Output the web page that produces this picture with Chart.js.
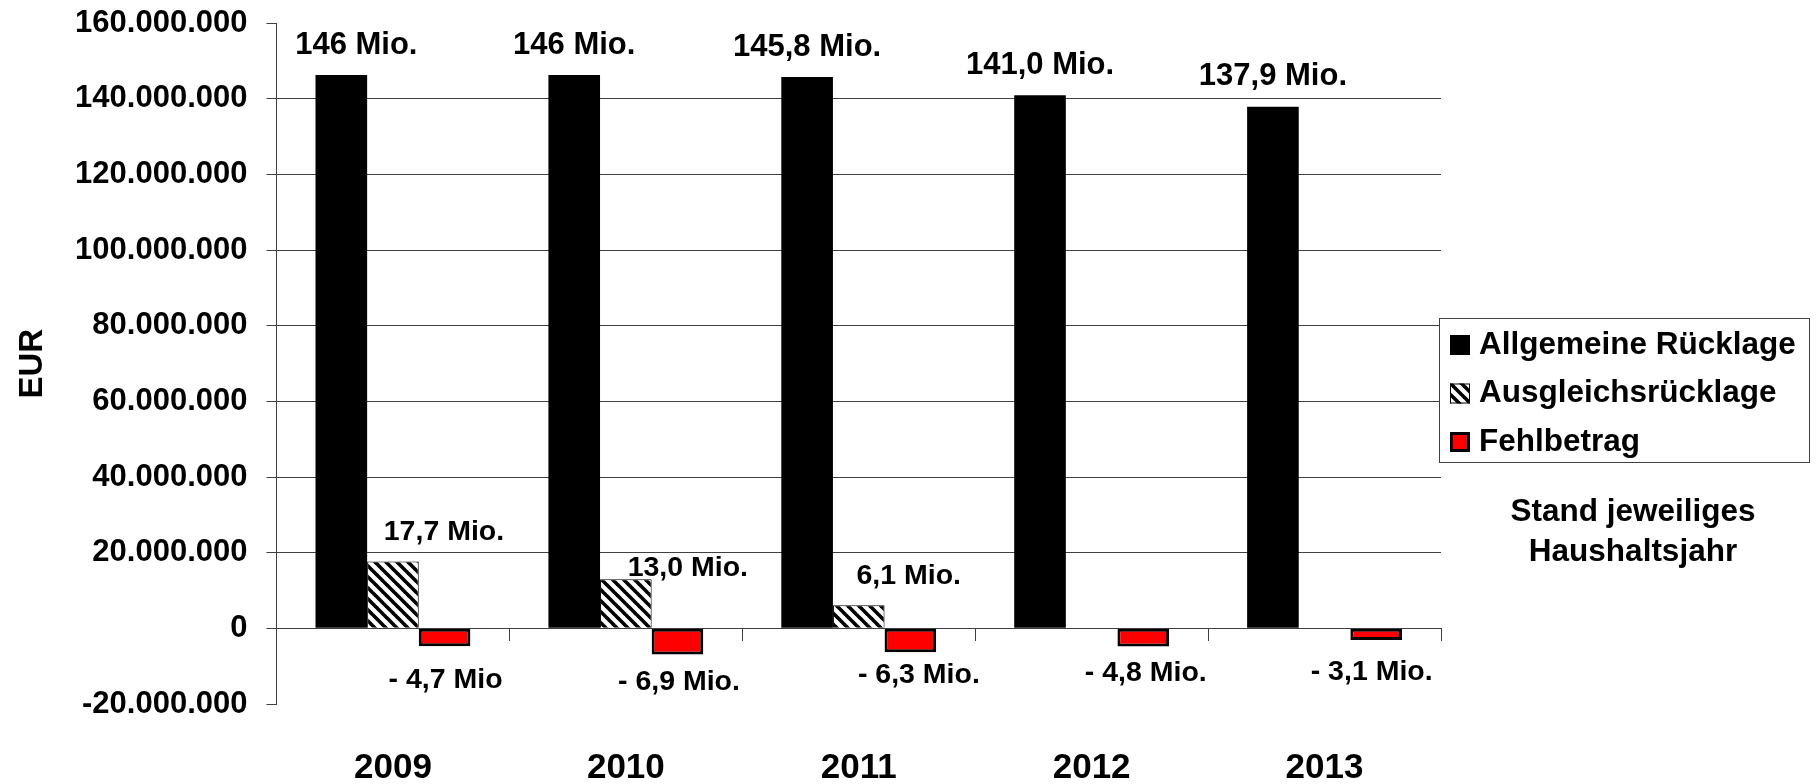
<!DOCTYPE html>
<html lang="de">
<head>
<meta charset="utf-8">
<title>Rücklagen</title>
<script src="https://cdn.jsdelivr.net/npm/chart.js@4/dist/chart.umd.min.js"></script>
<style>
  html, body { margin: 0; padding: 0; background: #fff; }
  #wrap { width: 1816px; height: 784px; position: relative; }
</style>
</head>
<body>
<div id="wrap"><canvas id="reserveChart"></canvas></div>
<script>
// ======= Daten =======
const years = ['2009', '2010', '2011', '2012', '2013'];
const allgemeineRuecklage = [146.3e6, 146.3e6, 145.8e6, 141.0e6, 137.9e6];
const ausgleichsRuecklage = [17.7e6, 13.0e6, 6.1e6, null, null];
const fehlbetrag = [-4.7e6, -6.9e6, -6.3e6, -4.8e6, -3.1e6];

const labelsAllgemein = ['146 Mio.', '146 Mio.', '145,8 Mio.', '141,0 Mio.', '137,9 Mio.'];
const labelsAusgleich = ['17,7 Mio.', '13,0 Mio.', '6,1 Mio.', '', ''];
const labelsFehl = ['- 4,7 Mio', '- 6,9 Mio.', '- 6,3 Mio.', '- 4,8 Mio.', '- 3,1 Mio.'];

const yMin = -20000000;
const yMax = 160000000;
const yStep = 20000000;

const noteLines = ['Stand jeweiliges', 'Haushaltsjahr'];

document.addEventListener('DOMContentLoaded', () => {
  const FONT = '"Liberation Sans", Arial, sans-serif';
  const GRID = '#404040';

  // schraffur fuer die ausgleichsruecklage
  function hatch() {
    const s = 11;
    const c = document.createElement('canvas');
    c.width = s; c.height = s;
    const g = c.getContext('2d');
    g.fillStyle = '#fff';
    g.fillRect(0, 0, s, s);
    g.strokeStyle = '#000';
    g.lineWidth = 3.6;
    for (let k = -1; k <= 1; k++) {
      g.beginPath();
      g.moveTo(k * s - 1, -1);
      g.lineTo(k * s + s + 1, s + 1);
      g.stroke();
    }
    return g.createPattern(c, 'repeat');
  }

  function fmt(v) {
    const s = Math.abs(v).toString().replace(/\B(?=(\d{3})+(?!\d))/g, '.');
    return (v < 0 ? '-' : '') + s;
  }

  // ======= Beschriftungen an den Balken =======
  const barLabels = {
    id: 'barLabels',
    afterDatasetsDraw(chart) {
      const c = chart.ctx;
      const zeroY = chart.scales.y.getPixelForValue(0);
      const texts = [labelsAllgemein, labelsAusgleich, labelsFehl];
      const sizes = [31, 28.5, 28.5];
      // kleine verschiebungen wie im original
      const dx = [[15, 0, 0, 0, 0], [51, 62, 50, 0, 0], [1, 1.5, 8.5, 2.5, -4.5]];
      const dy = [[-30, -30, -30, -30, -30], [-29, -11, -29, 0, 0], [52, 54, 47, 45, 44]];
      c.save();
      c.fillStyle = '#000';
      c.textAlign = 'center';
      c.textBaseline = 'middle';
      texts.forEach((list, i) => {
        c.font = 'bold ' + sizes[i] + 'px ' + FONT;
        const meta = chart.getDatasetMeta(i);
        meta.data.forEach((bar, j) => {
          const t = list[j];
          if (!t) return;
          const y = i === 2 ? zeroY + dy[i][j] : bar.y + dy[i][j];
          c.fillText(t, bar.x + dx[i][j], y);
        });
      });
      c.restore();
    }
  };

  // ======= Legende mit Rahmen + Hinweis =======
  const boxLegend = {
    id: 'boxLegend',
    afterDraw(chart, args, opts) {
      const c = chart.ctx;
      const b = opts.box;
      c.save();
      c.strokeStyle = GRID;
      c.lineWidth = 1;
      c.fillStyle = '#fff';
      c.fillRect(b.x, b.y, b.w, b.h);
      c.strokeRect(b.x + 0.5, b.y + 0.5, b.w, b.h);
      c.font = 'bold 31.5px ' + FONT;
      c.textBaseline = 'middle';
      c.textAlign = 'left';
      chart.data.datasets.forEach((ds, i) => {
        const cy = b.y + 27 + i * 48.5;
        const sx = b.x + 11, sz = 20;
        c.fillStyle = ds.backgroundColor;
        c.fillRect(sx, cy - sz / 2, sz, sz);
        const bw = ds.borderWidth || 0;
        if (bw) {
          c.strokeStyle = '#000';
          c.lineWidth = bw;
          c.strokeRect(sx + bw / 2, cy - sz / 2 + bw / 2, sz - bw, sz - bw);
        }
        c.fillStyle = '#000';
        c.fillText(ds.label, b.x + 40, cy);
      });
      c.textAlign = 'center';
      c.fillStyle = '#000';
      noteLines.forEach((line, i) => {
        c.fillText(line, opts.note.x, opts.note.y + i * 40);
      });
      c.restore();
    }
  };

  const ctx = document.getElementById('reserveChart');
  new Chart(ctx.getContext('2d'), {
    type: 'bar',
    data: {
      labels: years,
      datasets: [
        {
          label: 'Allgemeine Rücklage',
          data: allgemeineRuecklage,
          backgroundColor: '#000000',
          borderWidth: 0
        },
        {
          label: 'Ausgleichsrücklage',
          data: ausgleichsRuecklage,
          backgroundColor: hatch(),
          borderColor: '#000000',
          borderWidth: 1
        },
        {
          label: 'Fehlbetrag',
          data: fehlbetrag,
          backgroundColor: '#ff0000',
          borderColor: '#000000',
          borderWidth: 3,
          borderSkipped: false
        }
      ]
    },
    options: {
      responsive: true,
      maintainAspectRatio: false,
      animation: false,
      layout: { padding: { top: 23.3, right: 375, bottom: 0, left: 0 } },
      datasets: {
        bar: { categoryPercentage: 0.665, barPercentage: 1.0 }
      },
      plugins: {
        legend: { display: false },
        tooltip: { enabled: false },
        boxLegend: {
          box: { x: 1439, y: 318, w: 370, h: 144 },
          note: { x: 1633, y: 512 }
        }
      },
      scales: {
        x: {
          grid: { display: false },
          border: { display: false },
          ticks: {
            color: '#000',
            font: { family: FONT, size: 35, weight: 'bold' },
            padding: 35.5
          },
          afterFit: (s) => { s.height = 80; }
        },
        x2: {
          type: 'category',
          position: { y: 0 },
          offset: true,
          grid: {
            offset: true,
            drawOnChartArea: false,
            drawTicks: true,
            tickLength: 12,
            color: GRID
          },
          border: { display: true, color: GRID, width: 1 },
          ticks: { display: false }
        },
        y: {
          min: yMin,
          max: yMax,
          ticks: {
            stepSize: yStep,
            color: '#000',
            padding: 19,
            font: { family: FONT, size: 31, weight: 'bold' },
            callback: (v) => fmt(v)
          },
          grid: {
            color: (c) => (c.tick && c.tick.value >= 0 && c.tick.value < yMax) ? GRID : 'rgba(0,0,0,0)',
            tickColor: GRID,
            tickLength: 10,
            lineWidth: 1
          },
          border: { display: true, color: GRID, width: 1 },
          title: {
            display: true,
            text: 'EUR',
            color: '#000',
            font: { family: FONT, size: 33, weight: 'bold' },
            padding: { top: 13, bottom: 0 }
          },
          afterFit: (s) => {
            s.width = 276.5;
            s.paddingTop = 0;
            s.paddingBottom = 0;
          }
        }
      }
    },
    plugins: [barLabels, boxLegend]
  });
});
</script>
</body>
</html>
